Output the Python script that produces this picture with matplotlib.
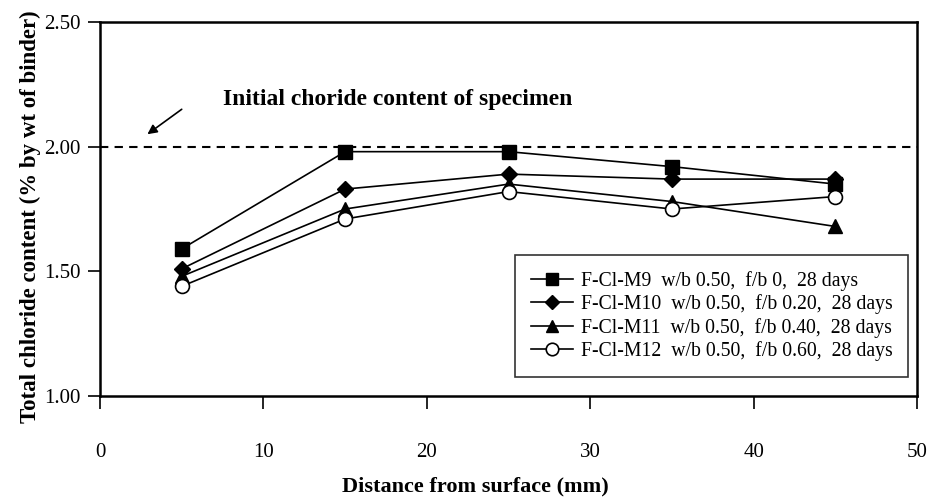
import matplotlib.pyplot as plt

plt.rcParams['font.family'] = ['Liberation Serif', 'DejaVu Serif']

# distance from surface (mm)
distance = [5, 15, 25, 35, 45]

# total chloride content (% by wt of binder)
m9 = [1.59, 1.98, 1.98, 1.92, 1.85]
m10 = [1.51, 1.83, 1.89, 1.87, 1.87]
m11 = [1.48, 1.75, 1.85, 1.78, 1.68]
m12 = [1.44, 1.71, 1.82, 1.75, 1.80]

labels = ["F-Cl-M9  w/b 0.50,  f/b 0,  28 days",
          "F-Cl-M10  w/b 0.50,  f/b 0.20,  28 days",
          "F-Cl-M11  w/b 0.50,  f/b 0.40,  28 days",
          "F-Cl-M12  w/b 0.50,  f/b 0.60,  28 days"]

initial = 2.00

fig = plt.figure(figsize=(9.32, 4.97), dpi=100)
ax = fig.add_axes([0.1073, 0.2032, 0.8767, 0.7525])

ax.axhline(initial, color="k", ls=(0, (4, 3)), lw=1.5, zorder=1)

ax.plot(distance, m9, "-s", color="k", lw=1.2, ms=10, label=labels[0])
ax.plot(distance, m10, "-D", color="k", lw=1.2, ms=8, label=labels[1])
ax.plot(distance, m11, "-^", color="k", lw=1.2, ms=10, label=labels[2])
ax.plot(distance, m12, "-o", color="k", lw=1.2, ms=10, mfc="w", mew=1.2, label=labels[3])

# note + arrow pointing at the initial level
ax.text(7.5, 2.19, "Initial choride content of specimen", fontsize=17,
        fontweight="bold", va="center", ha="left")
ax.annotate("", xy=(2.9, 2.05), xytext=(5.0, 2.15),
            arrowprops=dict(arrowstyle="-|>", color="k", lw=1.2,
                            shrinkA=0, shrinkB=0, mutation_scale=14))

ax.set_xlim(0, 50)
ax.set_ylim(1.0, 2.5)
ax.set_xticks([0, 10, 20, 30, 40, 50])
ax.set_yticks([1.0, 1.5, 2.0, 2.5])
ax.set_yticklabels(["1.00", "1.50", "2.00", "2.50"])
ax.tick_params(axis="x", direction="out", length=9, width=1.2, pad=25, labelsize=15)
ax.tick_params(axis="y", direction="out", length=9, width=1.2, pad=5, labelsize=15)

for s in ax.spines.values():
    s.set_linewidth(1.8)

ax.set_xlabel("Distance from surface (mm)", fontsize=16, fontweight="bold")
ax.xaxis.set_label_coords(0.46, -0.215)
ax.set_ylabel("Total chloride content (% by wt of binder)", fontsize=16.5,
              fontweight="bold")
ax.yaxis.set_label_coords(-0.072, 0.48)

leg = ax.legend(loc="lower right", bbox_to_anchor=(0.989, 0.051), borderaxespad=0,
                fontsize=14.2, frameon=True, fancybox=False, edgecolor="k",
                handlelength=2.1, labelspacing=0.18, borderpad=0.8,
                handletextpad=0.4, markerscale=0.9)
leg.get_frame().set_linewidth(1.2)

fig.savefig("out.png", dpi=100)
